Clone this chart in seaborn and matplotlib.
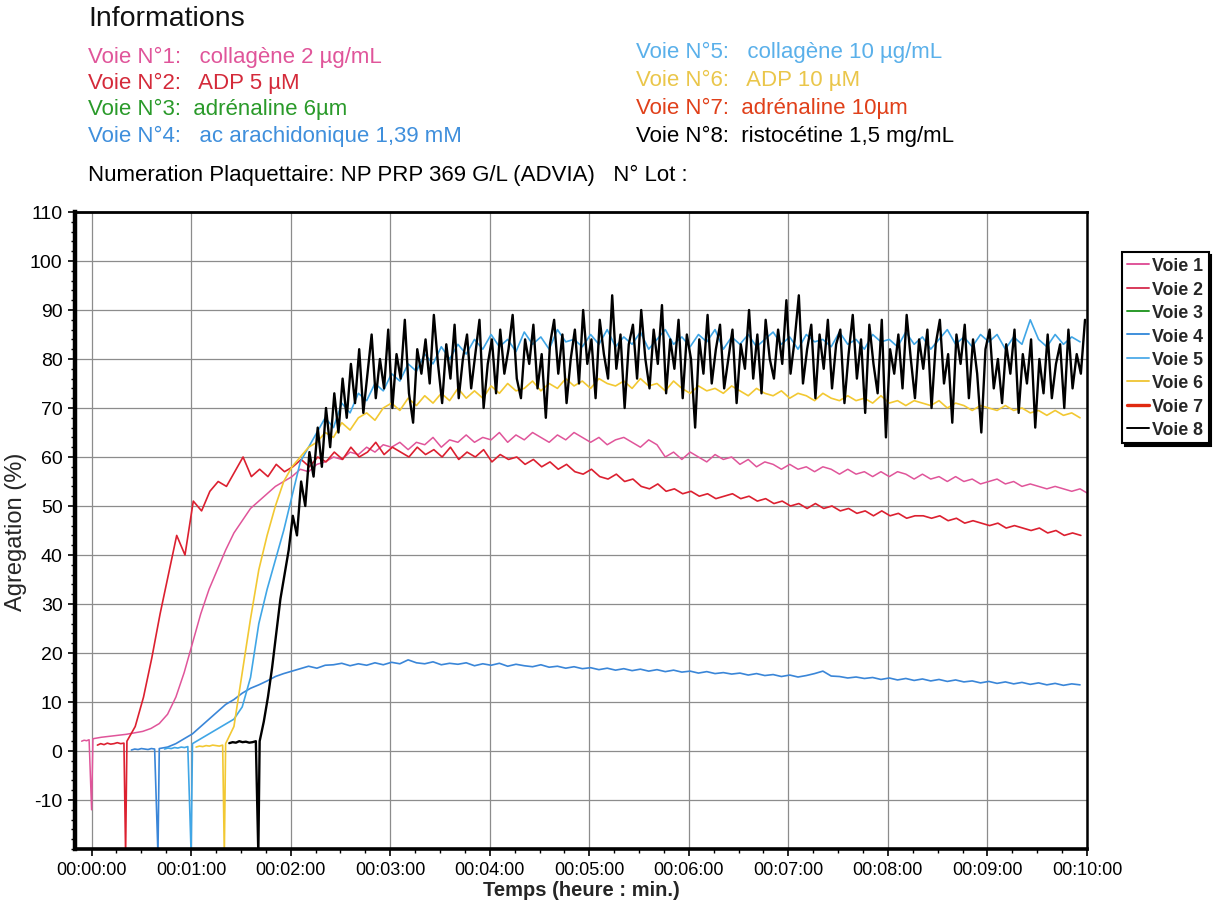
import numpy as np
import pandas as pd
import matplotlib
matplotlib.use("Agg")
import matplotlib.pyplot as plt
from matplotlib.lines import Line2D
from matplotlib.ticker import MultipleLocator
import seaborn as sns

# ---------------- data (time in seconds, aggregation in %) ----------------
lanes = ["Voie 1", "Voie 2", "Voie 3", "Voie 4", "Voie 5", "Voie 6", "Voie 7", "Voie 8"]
lane_colors = ["#e0559a", "#d83a5a", "#2a9a2a", "#3f8fdc", "#5ab0ea", "#f0c840", "#e02a10", "#000000"]

info_left = ["Voie N°1:   collagène 2 µg/mL", "Voie N°2:   ADP 5 µM",
             "Voie N°3:  adrénaline 6µm", "Voie N°4:   ac arachidonique 1,39 mM"]
info_left_colors = ["#e0559a", "#d42a3a", "#2a9a2a", "#3f8fdc"]
info_right = ["Voie N°5:   collagène 10 µg/mL", "Voie N°6:   ADP 10 µM",
              "Voie N°7:  adrénaline 10µm", "Voie N°8:  ristocétine 1,5 mg/mL"]
info_right_colors = ["#5ab0ea", "#eac64a", "#e0401a", "#000000"]

x_tick_labels = ["00:00:00", "00:01:00", "00:02:00", "00:03:00", "00:04:00", "00:05:00",
                 "00:06:00", "00:07:00", "00:08:00", "00:09:00", "00:10:00"]

# Voie 1 (pink) : baseline, injection at t=0, trace every 5 s
v1_pre_start, v1_pre_step = -6.0, 1.5
v1_pre = [2, 2.2, 2.1, 2.3]
v1_inj, v1_spike = 0.0, -12
v1_step = 5.0
v1 = [2.5, 2.8, 3.0, 3.2, 3.4, 3.7, 4.0, 4.6, 5.6, 7.5, 11, 16,
      22, 28, 33, 37, 41, 44.5, 47, 49.5, 51, 52.5, 54, 55,
      56, 57.5, 57, 58.5, 59, 60, 59.5, 61, 60.5, 62, 61, 62.5,
      62, 63, 61.5, 63, 62.5, 64, 62, 63.5, 63, 64.5, 63, 64,
      63.5, 65, 63, 64.5, 63.5, 65, 64, 63, 64.5, 63.5, 65, 64,
      63, 64, 62.5, 63.5, 64, 63, 62, 63.5, 62.5, 60, 61, 59.5,
      61, 60, 59, 60.5, 59.5, 60, 58.5, 59.5, 58, 59, 58.5, 57.5,
      58.5, 57.5, 58, 57, 58, 57.5, 56.5, 57.5, 56.5, 57, 56, 57,
      56, 57, 56.5, 55.5, 56.5, 55.5, 56, 55, 56, 55, 55.5, 54.5,
      55, 55.5, 54.5, 55, 54, 54.5, 54, 53.5, 54, 53.5, 53, 53.5,
      52.5]

# Voie 2 (red, ADP 5 µM)
v2_pre_start, v2_pre_step = 3.5, 2.0
v2_pre = [1.2, 1.5, 1.3, 1.6, 1.4, 1.5, 1.7, 1.5, 1.6]
v2_inj, v2_spike = 20.5, -21
v2_step = 5.0
v2 = [2, 5, 11, 19, 28, 36, 44, 40, 51, 49, 53, 55,
      54, 57, 60, 56, 57.5, 56, 58.5, 57, 58, 59.5, 58, 60,
      59, 61, 59.5, 62, 60, 61, 63, 60.5, 62, 61, 60, 62,
      60.5, 61.5, 60, 62, 59.5, 61, 60, 61.5, 59, 60.5, 59.5, 60,
      58.5, 59.5, 58, 59, 57.5, 58.5, 57, 56.5, 57.5, 56, 55.5, 56.5,
      55, 55.5, 54, 53.5, 54.5, 53, 53.5, 52.5, 53, 52, 52.5, 51.5,
      52, 52.5, 51.5, 52, 51, 51.5, 50.5, 51, 50, 50.5, 49.5, 50.5,
      49.5, 50, 49, 49.5, 48.5, 49, 48, 49, 48, 48.5, 47.5, 48,
      48, 47.5, 48, 47, 47.5, 46.5, 47, 46.5, 46, 46.5, 45.5, 46,
      45.5, 45, 45.5, 44.5, 45, 44, 44.5, 44]

# Voie 4 (blue, ac arachidonique)
v4_pre_start, v4_pre_step = 24.0, 2.0
v4_pre = [0.2, 0.4, 0.3, 0.5, 0.4, 0.3, 0.5, 0.4]
v4_inj, v4_spike = 40.0, -21
v4_step = 5.0
v4 = [0.5, 0.8, 1.5, 2.5, 3.5, 5, 6.5, 8, 9.5, 10.5, 11.8, 12.8,
      13.5, 14.3, 15.2, 15.8, 16.3, 16.8, 17.3, 16.9, 17.5, 17.6, 17.9, 17.4,
      17.8, 17.5, 18, 17.6, 18.1, 17.8, 18.6, 18, 17.8, 18.2, 17.6, 17.9,
      17.7, 18, 17.4, 17.8, 17.5, 17.9, 17.3, 17.7, 17.4, 17.2, 17.6, 17.1,
      17.3, 16.9, 17.2, 16.8, 17, 16.6, 16.9, 16.5, 16.8, 16.4, 16.7, 16.3,
      16.6, 16.2, 16.5, 16.1, 16.3, 15.9, 16.2, 15.8, 16, 15.7, 15.9, 15.5,
      15.8, 15.4, 15.6, 15.2, 15.5, 15.1, 15.4, 15.8, 16.3, 15.3, 15.2, 14.9,
      15.1, 14.8, 15, 14.6, 14.9, 14.5, 14.8, 14.4, 14.7, 14.3, 14.6, 14.2,
      14.5, 14.1, 14.3, 13.9, 14.2, 13.8, 14.1, 13.7, 14, 13.6, 13.9, 13.5,
      13.8, 13.4, 13.7, 13.5]

# Voie 5 (light blue, collagène 10)
v5_pre_start, v5_pre_step = 44.0, 2.0
v5_pre = [0.4, 0.6, 0.5, 0.7, 0.6, 0.8, 0.7, 0.9]
v5_inj, v5_spike = 60.0, -21
v5_step = 5.0
v5 = [1.5, 2.5, 3.5, 4.5, 5.5, 6.5, 9, 15, 26, 33, 39, 45,
      52, 59, 62, 65, 68, 66, 71, 69, 73, 71.5, 75, 73.5,
      77, 75.5, 79, 77.5, 81, 79, 82.5, 80, 83, 81, 84, 82,
      85, 82.5, 84, 81.5, 85.5, 83, 84.5, 82, 86, 83.5, 84, 82.5,
      85, 83, 86, 82.5, 84.5, 83, 85.5, 82, 84, 86, 83, 84.5,
      82.5, 85, 83.5, 86, 82, 84.5, 83, 85, 82.5, 84, 85.5, 83,
      84.5, 82, 85, 83.5, 84, 82.5, 85.5, 83, 84, 82, 85, 83.5,
      84, 82.5, 85.5, 83, 84.5, 82, 84, 86, 83, 84.5, 82.5, 85,
      83.5, 85, 82, 84.5, 83, 88, 84, 82.5, 85, 83, 84.5, 83.5]

# Voie 6 (yellow, ADP 10)
v6_pre_start, v6_pre_step = 63.0, 2.0
v6_pre = [0.8, 1, 0.9, 1.1, 1, 1.2, 1.1, 1, 1.2]
v6_inj, v6_spike = 80.0, -21
v6_step = 5.0
v6 = [1.5, 5, 16, 27, 37, 44, 50, 55, 58, 60, 62, 63,
      65, 64, 67, 65.5, 68, 69, 67.5, 70, 71, 69.5, 72, 70.5,
      72.5, 71, 73, 71.5, 74, 72, 73.5, 72, 74.5, 73, 75, 73.5,
      74, 75.5, 73.5, 75, 74, 76, 74.5, 75.5, 74, 76, 75, 74.5,
      75.5, 74, 76, 74.5, 75, 73.5, 75.5, 74, 73, 74.5, 73.5, 74,
      73, 74.5, 73.5, 72.5, 74, 73, 72.5, 73.5, 72, 73, 72.5, 71.5,
      73, 72, 71.5, 72.5, 71.5, 72, 71, 72.5, 71, 71.5, 70.5, 71.5,
      71, 70.5, 71.5, 70, 71, 70.5, 69.5, 70.5, 70, 69.5, 70.5, 69.5,
      70, 69, 69.5, 68.5, 69.5, 68.5, 69, 68]

# Voie 8 (black, ristocétine) - trace every 2.5 s
v8_pre_start, v8_pre_step = 83.0, 2.0
v8_pre = [1.6, 1.8, 1.7, 2, 1.8, 1.9, 1.7, 1.8, 2]
v8_inj, v8_spike = 100.5, -21
v8_step = 2.5
v8 = [2, 6, 11, 17, 24, 31, 36, 41, 48, 44,
      55, 50, 61, 56, 66, 58, 70, 62, 73, 65,
      76, 68, 79, 71, 82, 69, 77, 85, 72, 80,
      74, 86, 70, 81, 76, 88, 73, 67, 82, 77,
      84, 75, 89, 79, 71, 83, 76, 87, 72, 80,
      85, 74, 81, 88, 70, 79, 84, 73, 86, 77,
      82, 89, 76, 72, 84, 79, 87, 74, 81, 68,
      83, 88, 77, 85, 71, 80, 86, 75, 90, 79,
      84, 72, 88, 81, 76, 93, 78, 85, 70, 83,
      87, 76, 90, 80, 74, 86, 79, 91, 73, 84,
      78, 88, 72, 85, 80, 66, 84, 77, 89, 75,
      82, 87, 74, 80, 86, 71, 83, 78, 90, 76,
      85, 73, 88, 80, 76, 86, 79, 92, 77, 84,
      93, 75, 82, 87, 72, 85, 78, 88, 74, 83,
      86, 71, 81, 89, 76, 84, 69, 87, 79, 73,
      88, 64, 82, 77, 85, 74, 89, 80, 72, 84,
      78, 86, 70, 83, 88, 75, 81, 67, 85, 79,
      87, 72, 84, 77, 65, 82, 86, 74, 80, 71,
      83, 77, 86, 69, 81, 75, 84, 66, 80, 73,
      85, 72, 79, 83, 70, 86, 74, 81, 77, 88]


def build(pre_start, pre_step, pre, inj, spike, step, main):
    t_pre = pre_start + pre_step * np.arange(len(pre))
    t_main = inj + 0.8 + step * np.arange(len(main))
    t = np.concatenate([t_pre, [inj], t_main])
    v = np.concatenate([pre, [spike], main])
    return pd.DataFrame({"t": t, "v": v})


traces = [
    ("Voie 1", build(v1_pre_start, v1_pre_step, v1_pre, v1_inj, v1_spike, v1_step, v1), 1.1),
    ("Voie 2", build(v2_pre_start, v2_pre_step, v2_pre, v2_inj, v2_spike, v2_step, v2), 1.2),
    ("Voie 4", build(v4_pre_start, v4_pre_step, v4_pre, v4_inj, v4_spike, v4_step, v4), 1.2),
    ("Voie 5", build(v5_pre_start, v5_pre_step, v5_pre, v5_inj, v5_spike, v5_step, v5), 1.2),
    ("Voie 6", build(v6_pre_start, v6_pre_step, v6_pre, v6_inj, v6_spike, v6_step, v6), 1.2),
    ("Voie 8", build(v8_pre_start, v8_pre_step, v8_pre, v8_inj, v8_spike, v8_step, v8), 1.7),
]
trace_colors = {"Voie 1": "#e0559a", "Voie 2": "#dc2030", "Voie 4": "#3a86d8",
                "Voie 5": "#40a6e6", "Voie 6": "#f2c832", "Voie 8": "#000000"}

# ---------------- figure ----------------
sns.set_style("white")
plt.rcParams["font.family"] = ["Liberation Sans", "DejaVu Sans"]
plt.rcParams["axes.unicode_minus"] = False

W, H = 1217, 904
fig = plt.figure(figsize=(W / 100, H / 100), dpi=100)
ax = fig.add_axes([75 / W, 1 - 850 / H, (1087 - 75) / W, (850 - 213) / H])

for name, df, lw in traces:
    sns.lineplot(data=df, x="t", y="v", ax=ax, color=trace_colors[name], linewidth=lw,
                 estimator=None, sort=False, legend=False)

ax.set_xlim(-10, 600)
ax.set_ylim(-20, 110)
ax.set_xticks(np.arange(0, 601, 60))
ax.set_xticklabels(x_tick_labels)
ax.xaxis.set_minor_locator(MultipleLocator(15))
ax.set_yticks(np.arange(-10, 111, 10))
ax.yaxis.set_minor_locator(MultipleLocator(2))
ax.tick_params(axis="y", which="major", direction="out", length=5, width=1.2,
               colors="black", labelsize=14, pad=4, left=True)
ax.tick_params(axis="x", which="major", direction="out", length=5, width=1.2,
               colors="black", labelsize=13, pad=4, bottom=True)
ax.tick_params(axis="both", which="minor", direction="out", length=3, width=1,
               colors="black", bottom=True, left=True)
ax.grid(True, which="major", color="#8c8c8c", linewidth=0.9)
ax.set_axisbelow(True)

ax.spines["left"].set_linewidth(3.2)
ax.spines["bottom"].set_linewidth(2.6)
ax.spines["top"].set_linewidth(2.0)
ax.spines["right"].set_linewidth(1.8)
for s in ax.spines.values():
    s.set_color("black")

ax.set_xlabel("Temps (heure : min.)", fontsize=14.5, fontweight="bold", labelpad=1)
ax.set_ylabel("Agregation (%)", fontsize=17, labelpad=2)

# legend
handles = [Line2D([0], [0], color=c, lw=(2.4 if n == "Voie 7" else 1.4)) for n, c in zip(lanes, lane_colors)]
leg = fig.legend(handles, lanes, loc="upper left", bbox_to_anchor=(1122 / W, 1 - 253 / H),
                 fontsize=12.8, frameon=True, fancybox=False, edgecolor="black",
                 shadow={"color": "black", "alpha": 1.0}, handlelength=1.2,
                 handletextpad=0.2, labelspacing=0.36, borderpad=0.3, borderaxespad=0)
leg.get_frame().set_linewidth(1.5)
for txt in leg.get_texts():
    txt.set_fontweight("bold")

# header information text
fig.text(88 / W, 1 - 19 / H, "Informations", fontsize=20.5, va="center", ha="left", color="#111111")
left_y = [57, 83, 109, 136]
right_y = [52, 80, 108, 136]
for s, c, y in zip(info_left, info_left_colors, left_y):
    fig.text(88 / W, 1 - y / H, s, fontsize=16, va="center", ha="left", color=c)
for s, c, y in zip(info_right, info_right_colors, right_y):
    fig.text(636 / W, 1 - y / H, s, fontsize=16, va="center", ha="left", color=c)
fig.text(88 / W, 1 - 175 / H, "Numeration Plaquettaire: NP PRP 369 G/L (ADVIA)   N° Lot :",
         fontsize=16, va="center", ha="left", color="black")

fig.savefig("out.png", dpi=100)
